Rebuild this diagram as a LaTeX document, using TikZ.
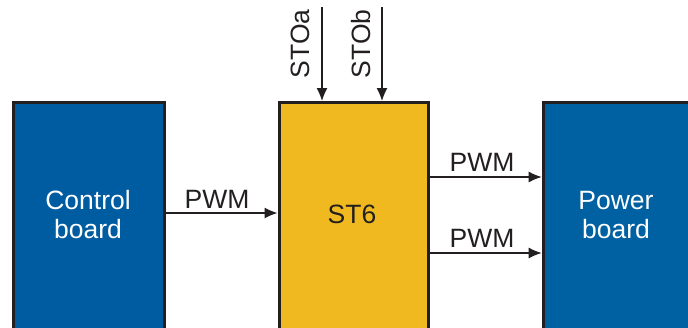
\documentclass[tikz,border=0pt]{standalone}
\usepackage{fontspec}
\setmainfont{Liberation Sans}
\usetikzlibrary{arrows.meta}
\definecolor{boardblue}{HTML}{005CA0}
\definecolor{powerblue}{HTML}{0061A2}
\definecolor{styellow}{HTML}{F0B920}
\definecolor{edge}{HTML}{231F20}
\tikzset{
  block/.style={draw=edge, line width=3pt, rectangle, inner sep=0pt, anchor=north west},
  sig/.style={draw=edge, line width=1.3pt, -{Latex[length=13pt,width=11pt]}},
  siglabel/.style={font=\fontsize{26.5}{30}\selectfont, text=edge, inner sep=0pt}
}
\begin{document}
\begin{tikzpicture}[x=1pt,y=-1pt]
  \useasboundingbox (0,0) rectangle (688,327);
  \clip (0,0) rectangle (688,327);
  % blocks run past the lower (and right) edge of the page
  \node[block, fill=boardblue, minimum width=151pt, minimum height=250pt]
    (ctrl) at (12,101) {};
  \node[block, fill=styellow, minimum width=149pt, minimum height=250pt]
    (st6) at (277.5,101) {};
  \node[block, fill=powerblue, minimum width=170pt, minimum height=250pt]
    (pwr) at (541.7,101) {};
  % block captions
  \node[siglabel, text=white, align=center] (ctrltxt) at (88,215) {Control\\[-1pt]board};
  \node[siglabel, align=center] (sttxt) at (352,214) {ST6};
  \node[siglabel, text=white, align=center] (pwrtxt) at (616,215) {Power\\[-1pt]board};
  % safe torque off inputs
  \coordinate (stoa) at (322,7);
  \coordinate (stob) at (382,7);
  \draw[sig] (stoa) -- (stoa |- st6.north);
  \draw[sig] (stob) -- (stob |- st6.north);
  \node[siglabel, rotate=90] (stoalbl) at (300,44) {STOa};
  \node[siglabel, rotate=90] (stoblbl) at (361,44) {STOb};
  % PWM signals
  \draw[sig] (ctrl.east |- 0,213) -- (st6.west |- 0,213);
  \draw[sig] (st6.east |- 0,177) -- (pwr.west |- 0,177);
  \draw[sig] (st6.east |- 0,253) -- (pwr.west |- 0,253);
  \node[siglabel] (pwm1) at (217,199) {PWM};
  \node[siglabel] (pwm2) at (482,162) {PWM};
  \node[siglabel] (pwm3) at (482,238) {PWM};
\end{tikzpicture}
\end{document}
